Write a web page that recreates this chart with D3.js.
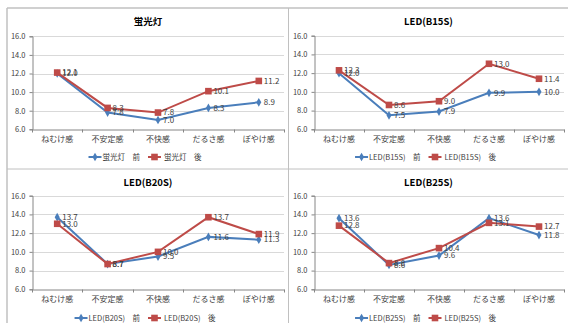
<!DOCTYPE html>
<html>
<head>
<meta charset="utf-8">
<script src="https://cdn.jsdelivr.net/npm/d3@7"></script>
<style>
  html, body { margin: 0; padding: 0; background: #fff; }
  svg { display: block; }
  text { font-family: "Noto Sans CJK JP", "Noto Sans", sans-serif; }
</style>
</head>
<body>
<svg id="chart" width="568" height="323"></svg>
<script>
// Shared categories and axis ticks
const categories = ["ねむけ感", "不安定感", "不快感", "だるさ感", "ぼやけ感"];
const yTicks = [6, 8, 10, 12, 14, 16];

// Panel titles and series names
const titles = ["蛍光灯", "LED(B15S)", "LED(B20S)", "LED(B25S)"];
const beforeLabel = "前";
const afterLabel = "後";

// Values per panel: before (前) and after (後)
const fluorescentBefore = [12.0, 7.8, 7.0, 8.3, 8.9];
const fluorescentAfter  = [12.1, 8.3, 7.8, 10.1, 11.2];
const b15sBefore = [12.0, 7.5, 7.9, 9.9, 10.0];
const b15sAfter  = [12.3, 8.6, 9.0, 13.0, 11.4];
const b20sBefore = [13.7, 8.7, 9.5, 11.6, 11.3];
const b20sAfter  = [13.0, 8.7, 10.0, 13.7, 11.9];
const b25sBefore = [13.6, 8.6, 9.6, 13.6, 11.8];
const b25sAfter  = [12.8, 8.8, 10.4, 13.1, 12.7];

const COLOR_BEFORE = "#4a7ebb";
const COLOR_AFTER = "#be4b48";
const TEXT = "#404040";

const svg = d3.select("#chart");

// Sheet frame lines separating the four charts
const frame = svg.append("g").attr("stroke", "#c0c0c0").attr("fill", "none");
frame.append("line").attr("x1", 7).attr("x2", 568).attr("y1", 8).attr("y2", 8).attr("stroke-width", 1.5);
frame.append("line").attr("x1", 7).attr("x2", 7).attr("y1", 8).attr("y2", 323).attr("stroke-width", 1.5);
frame.append("line").attr("x1", 288.5).attr("x2", 288.5).attr("y1", 8).attr("y2", 323);
frame.append("line").attr("x1", 7).attr("x2", 568).attr("y1", 169).attr("y2", 169);

const panels = [
  { title: titles[0], name: "蛍光灯", before: fluorescentBefore, after: fluorescentAfter,
    px0: 7, px1: 289, py0: 8, x0: 32, x1: 284, y0: 36.3, y1: 129.3 },
  { title: titles[1], name: "LED(B15S)", before: b15sBefore, after: b15sAfter,
    px0: 289, px1: 568, py0: 8, x0: 314, x1: 564, y0: 35.7, y1: 129.3 },
  { title: titles[2], name: "LED(B20S)", before: b20sBefore, after: b20sAfter,
    px0: 7, px1: 289, py0: 169, x0: 32, x1: 284, y0: 195.7, y1: 289.3 },
  { title: titles[3], name: "LED(B25S)", before: b25sBefore, after: b25sAfter,
    px0: 289, px1: 568, py0: 169, x0: 314, x1: 564, y0: 195.7, y1: 289.3 }
];

function diamond(g, x, y, color) {
  g.append("path")
    .attr("d", d3.symbol(d3.symbolDiamond, 22)())
    .attr("transform", `translate(${x},${y})`)
    .attr("fill", color);
}
function square(g, x, y, color) {
  g.append("rect")
    .attr("x", x - 3.3).attr("y", y - 3.3)
    .attr("width", 6.6).attr("height", 6.6)
    .attr("fill", color);
}

panels.forEach(p => {
  const g = svg.append("g");
  const x = d3.scaleBand().domain(categories).range([p.x0, p.x1]);
  const y = d3.scaleLinear().domain([6, 16]).range([p.y1, p.y0]);
  const cx = d => x(d) + x.bandwidth() / 2;
  const panelCenter = (p.px0 + p.px1) / 2;

  // Title
  g.append("text")
    .attr("x", panelCenter).attr("y", p.py0 + 16.5)
    .attr("text-anchor", "middle")
    .attr("font-size", 9.5).attr("font-weight", "bold")
    .attr("fill", "#000")
    .text(p.title);

  // Horizontal gridlines
  g.append("g").selectAll("line").data(yTicks.filter(t => t > 6)).join("line")
    .attr("x1", p.x0).attr("x2", p.x1)
    .attr("y1", d => Math.round(y(d)) + 0.5).attr("y2", d => Math.round(y(d)) + 0.5)
    .attr("stroke", "#d9d9d9").attr("stroke-width", 1);

  // Y axis
  const yAxis = g.append("g")
    .attr("transform", `translate(${Math.round(p.x0) + 0.5},0)`)
    .call(d3.axisLeft(y).tickValues(yTicks).tickFormat(d3.format(".1f")).tickSize(3).tickPadding(4));
  yAxis.select(".domain").attr("stroke", "#868686");
  yAxis.selectAll(".tick line").attr("stroke", "#868686");
  yAxis.selectAll(".tick text").attr("font-size", 7.5).attr("fill", TEXT)
    .attr("font-family", '"Noto Sans CJK JP", sans-serif');

  // X axis with tick marks at category boundaries
  const xAxis = g.append("g")
    .attr("transform", `translate(0,${Math.round(p.y1) + 0.5})`)
    .call(d3.axisBottom(x).tickSize(0).tickPadding(7));
  xAxis.select(".domain").attr("stroke", "#868686");
  xAxis.selectAll(".tick text").attr("font-size", 8).attr("fill", TEXT)
    .attr("font-family", '"Noto Sans CJK JP", sans-serif');
  const bounds = categories.map(c => x(c)).concat([x(categories[categories.length - 1]) + x.bandwidth()]);
  xAxis.selectAll("line.bound").data(bounds).join("line")
    .attr("class", "bound")
    .attr("x1", d => Math.round(d) + 0.5).attr("x2", d => Math.round(d) + 0.5)
    .attr("y1", 0).attr("y2", 3)
    .attr("stroke", "#868686");

  // Lines
  const line = d3.line().x((d, i) => cx(categories[i])).y(d => y(d));
  g.append("path").datum(p.before).attr("d", line)
    .attr("fill", "none").attr("stroke", COLOR_BEFORE).attr("stroke-width", 2);
  g.append("path").datum(p.after).attr("d", line)
    .attr("fill", "none").attr("stroke", COLOR_AFTER).attr("stroke-width", 2);

  // Markers
  p.before.forEach((v, i) => diamond(g, cx(categories[i]), y(v), COLOR_BEFORE));
  p.after.forEach((v, i) => square(g, cx(categories[i]), y(v), COLOR_AFTER));

  // Value labels
  const lbl = (vals) => vals.forEach((v, i) => {
    g.append("text")
      .attr("x", cx(categories[i]) + 5).attr("y", y(v))
      .attr("dy", "0.35em")
      .attr("font-size", 8).attr("fill", TEXT)
      .text(d3.format(".1f")(v));
  });
  lbl(p.before);
  lbl(p.after);

  // Legend
  const lg = g.append("g");
  const ly = p.py0 + 149;
  const item1 = lg.append("g");
  item1.append("line").attr("x1", 0).attr("x2", 13).attr("y1", 0).attr("y2", 0)
    .attr("stroke", COLOR_BEFORE).attr("stroke-width", 2);
  diamond(item1, 6.5, 0, COLOR_BEFORE);
  const t1 = item1.append("text").attr("x", 14).attr("dy", "0.35em")
    .attr("font-size", 7.5).attr("fill", TEXT).text(`${p.name}　${beforeLabel}`);
  const w1 = 14 + t1.node().getComputedTextLength();
  const item2 = lg.append("g").attr("transform", `translate(${w1 + 8},0)`);
  item2.append("line").attr("x1", 0).attr("x2", 13).attr("y1", 0).attr("y2", 0)
    .attr("stroke", COLOR_AFTER).attr("stroke-width", 2);
  square(item2, 6.5, 0, COLOR_AFTER);
  const t2 = item2.append("text").attr("x", 16).attr("dy", "0.35em")
    .attr("font-size", 7.5).attr("fill", TEXT).text(`${p.name}　${afterLabel}`);
  const total = w1 + 8 + 16 + t2.node().getComputedTextLength();
  lg.attr("transform", `translate(${panelCenter - total / 2 - 3},${ly})`);
});
</script>
</body>
</html>
